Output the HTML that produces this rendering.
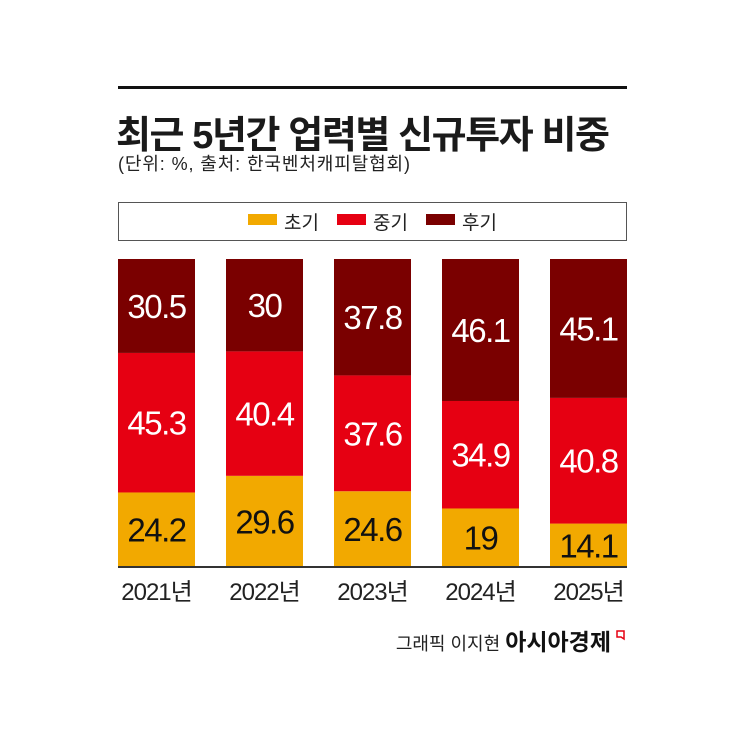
<!DOCTYPE html>
<html><head><meta charset="utf-8"><style>
body{margin:0;background:#fff;width:745px;height:745px;overflow:hidden;font-family:"Liberation Sans","Noto Sans CJK KR",sans-serif}
svg text{font-family:"Liberation Sans","Noto Sans CJK KR",sans-serif}
</style></head><body>
<svg id="chart" width="745" height="745">
<rect x="118" y="86" width="509" height="3" fill="#111"/>
<text x="116" y="148" font-size="38" font-weight="bold" fill="#1a1a1a" textLength="494">최근 5년간 업력별 신규투자 비중</text>
<text x="118" y="170" font-size="18" fill="#222" textLength="292">(단위: %, 출처: 한국벤처캐피탈협회)</text>
<rect x="118.5" y="202.5" width="508" height="38" fill="#fff" stroke="#555"/>
<g>
<rect x="248" y="214" width="29" height="11" fill="#F2A900"/>
<text x="284" y="229" font-size="19" fill="#222">초기</text>
<rect x="337" y="214" width="29" height="11" fill="#E60012"/>
<text x="373" y="229" font-size="19" fill="#222">중기</text>
<rect x="426" y="214" width="29" height="11" fill="#7A0000"/>
<text x="462" y="229" font-size="19" fill="#222">후기</text>
</g>
<g id="bars"></g>
<rect x="118" y="566" width="509" height="2" fill="#333"/>
<text x="611" y="650" font-size="18" fill="#222" text-anchor="end"><tspan font-size="18" font-weight="normal">그래픽 이지현 </tspan><tspan font-size="23" font-weight="bold" fill="#111">아시아경제</tspan></text>
<path d="M617 631 h7 v8 l-3 -2 h-4 z" fill="none" stroke="#E60012" stroke-width="1.5"/>
</svg>
<script>
const categories=["2021년","2022년","2023년","2024년","2025년"];
const early=[24.2,29.6,24.6,19,14.1];
const mid=[45.3,40.4,37.6,34.9,40.8];
const late=[30.5,30,37.8,46.1,45.1];
const NS="http://www.w3.org/2000/svg";
const g=document.getElementById("bars");
const x0=118,pitch=108,bw=77,base=567,topY=259;
const yScale=v=>(base-topY)*v/100;
const series=[{d:early,c:"#F2A900",t:"#111",n:"early"},{d:mid,c:"#E60012",t:"#fff",n:"mid"},{d:late,c:"#7A0000",t:"#fff",n:"late"}];
categories.forEach((cat,i)=>{
  const x=x0+i*pitch;let cum=0;
  const tot=early[i]+mid[i]+late[i];
  series.forEach(s=>{
    const v=s.d[i]*100/tot;
    const h=yScale(v);const y=base-yScale(cum)-h;cum+=v;
    const r=document.createElementNS(NS,"rect");
    r.setAttribute("x",x);r.setAttribute("y",y);r.setAttribute("width",bw);r.setAttribute("height",h);r.setAttribute("fill",s.c);
    
    
    g.appendChild(r);
    const t=document.createElementNS(NS,"text");
    t.setAttribute("x",x+bw/2);t.setAttribute("y",y+h/2+12);t.setAttribute("text-anchor","middle");
    t.setAttribute("font-size","33");t.setAttribute("fill",s.t);t.setAttribute("letter-spacing","-1.5");
    t.textContent=s.d[i];
    
    
    g.appendChild(t);
  });
  const l=document.createElementNS(NS,"text");
  l.setAttribute("x",x+bw/2);l.setAttribute("y",600);l.setAttribute("text-anchor","middle");
  l.setAttribute("font-size","24");l.setAttribute("fill","#222");l.setAttribute("letter-spacing","-1");
  l.textContent=cat;
  
  
  g.appendChild(l);
});
</script>
</body></html>
